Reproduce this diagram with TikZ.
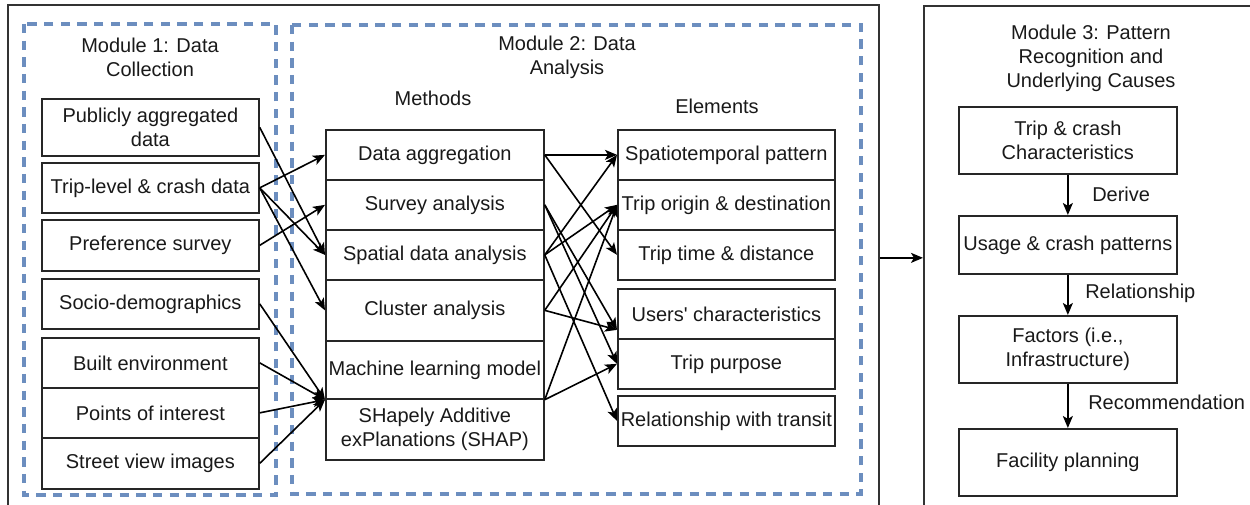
\documentclass[tikz,border=0pt]{standalone}
\usepackage{fontspec}
\setmainfont{Liberation Sans}[Ligatures=TeXOff]
\usetikzlibrary{arrows.meta,calc}
\definecolor{modblue}{HTML}{6C8EBF}
\tikzset{
  txt/.style={font=\fontsize{15}{18}\selectfont, text=black!90, align=center, inner sep=0pt},
  box/.style={txt, draw=black!85, line width=1.3pt},
  arr/.style={draw=black, line width=1.2pt, -{Stealth[length=9pt,width=7.5pt,inset=2.2pt]}},
  module/.style={draw=modblue, line width=2.4pt, dash pattern=on 7pt off 5.5pt},
  frame/.style={draw=black!80, line width=1.3pt, inner sep=0pt},
}
% box from (x1,y1) to (x2,y2) in pixel units
\newcommand\boxat[6]{\node[box, anchor=north west, minimum width={(#4-#2)*0.75pt}, minimum height={(#5-#3)*0.75pt}] (#1) at (#2,#3) {#6};}
\begin{document}
\begin{tikzpicture}[x=0.75pt,y=-0.75pt]
\clip (0,0) rectangle (1250,505);

% outer frames
\node[frame, anchor=north west, minimum width={871*0.75pt}, minimum height={506*0.75pt}] (left) at (7,4) {};
\node[frame, anchor=north west, minimum width={340*0.75pt}, minimum height={504*0.75pt}] (right) at (923,5) {};
\draw[arr] (left.east) -- (left.east -| right.west);

% dashed module areas
\draw[module] (24,24) rectangle (276,495);
\draw[module] (292,25) rectangle (861,494);

% titles
\node[txt] (t1) at (150,57) {Module 1: Data\\Collection};
\node[txt] (t2) at (567,57) {Module 2: Data\\Analysis};
\node[txt] (tm) at (433,98) {Methods};
\node[txt] (te) at (717,106) {Elements};
\node[txt] (t3) at (1091,58) {Module 3: Pattern\\Recognition and\\Underlying Causes};

% module 1: data sources
\boxat{pub}{41}{98}{258}{155}{Publicly aggregated\\data}
\boxat{trip}{41}{162}{258}{212}{Trip-level \& crash data}
\boxat{pref}{41}{219}{258}{270}{Preference survey}
\boxat{socio}{41}{278}{258}{328}{Socio-demographics}
\boxat{built}{41}{337}{258}{387}{Built environment}
\boxat{poi}{41}{387}{258}{437}{Points of interest}
\boxat{street}{41}{437}{258}{488}{Street view images}

% module 2: methods
\boxat{agg}{325}{129}{543}{179}{Data aggregation}
\boxat{survey}{325}{179}{543}{229}{Survey analysis}
\boxat{spatial}{325}{229}{543}{279}{Spatial data analysis}
\boxat{cluster}{325}{279}{543}{340}{Cluster analysis}
\boxat{ml}{325}{340}{543}{398}{Machine learning model}
\boxat{shap}{325}{398}{543}{459}{SHapely Additive\\exPlanations (SHAP)}

% module 2: elements
\boxat{st}{617}{129}{834}{179}{Spatiotemporal pattern}
\boxat{od}{617}{179}{834}{229}{Trip origin \& destination}
\boxat{td}{617}{229}{834}{279}{Trip time \& distance}
\boxat{uc}{617}{288}{834}{338}{Users' characteristics}
\boxat{tp}{617}{338}{834}{388}{Trip purpose}
\boxat{rt}{617}{395}{834}{445}{Relationship with transit}

% module 3
\boxat{ma}{958}{106}{1176}{173}{Trip \& crash\\Characteristics}
\boxat{mb}{958}{215}{1176}{273}{Usage \& crash patterns}
\boxat{mc}{958}{315}{1176}{382}{Factors (i.e.,\\Infrastructure)}
\boxat{md}{958}{428}{1176}{495}{Facility planning}

% sources -> methods
\draw[arr] (pub.east) -- (spatial.west);
\draw[arr] (trip.east) -- (agg.west);
\draw[arr] (trip.east) -- (spatial.west);
\draw[arr] (trip.east) -- (cluster.west);
\draw[arr] (pref.east) -- (survey.west);
\coordinate (mlin) at (ml.south west);
\draw[arr] (socio.east) -- (mlin);
\draw[arr] (built.east) -- (mlin);
\draw[arr] (poi.east) -- (mlin);
\draw[arr] (street.east) -- (mlin);

% methods -> elements
\coordinate (ucin) at ([yshift=-12pt]uc.west);
\coordinate (mlout) at (ml.south east);
\draw[arr] (agg.east) -- (st.west);
\draw[arr] (agg.east) -- (td.west);
\draw[arr] (survey.east) -- (ucin);
\draw[arr] (survey.east) -- (tp.west);
\draw[arr] (spatial.east) -- (st.west);
\draw[arr] (spatial.east) -- (od.west);
\draw[arr] (spatial.east) -- (rt.west);
\draw[arr] (cluster.east) -- (od.west);
\draw[arr] (cluster.east) -- (ucin);
\draw[arr] (mlout) -- (od.west);
\draw[arr] (mlout) -- (tp.west);

% module 3 flow
\draw[arr] (ma) -- (mb);
\draw[arr] (mb) -- (mc);
\draw[arr] (mc) -- (md);
\node[txt, anchor=west] (l1) at (1092,194) {Derive};
\node[txt, anchor=west] (l2) at (1085,293) {Relationship};
\node[txt, anchor=west] (l3) at (1088,402) {Recommendation};
\end{tikzpicture}
\end{document}
